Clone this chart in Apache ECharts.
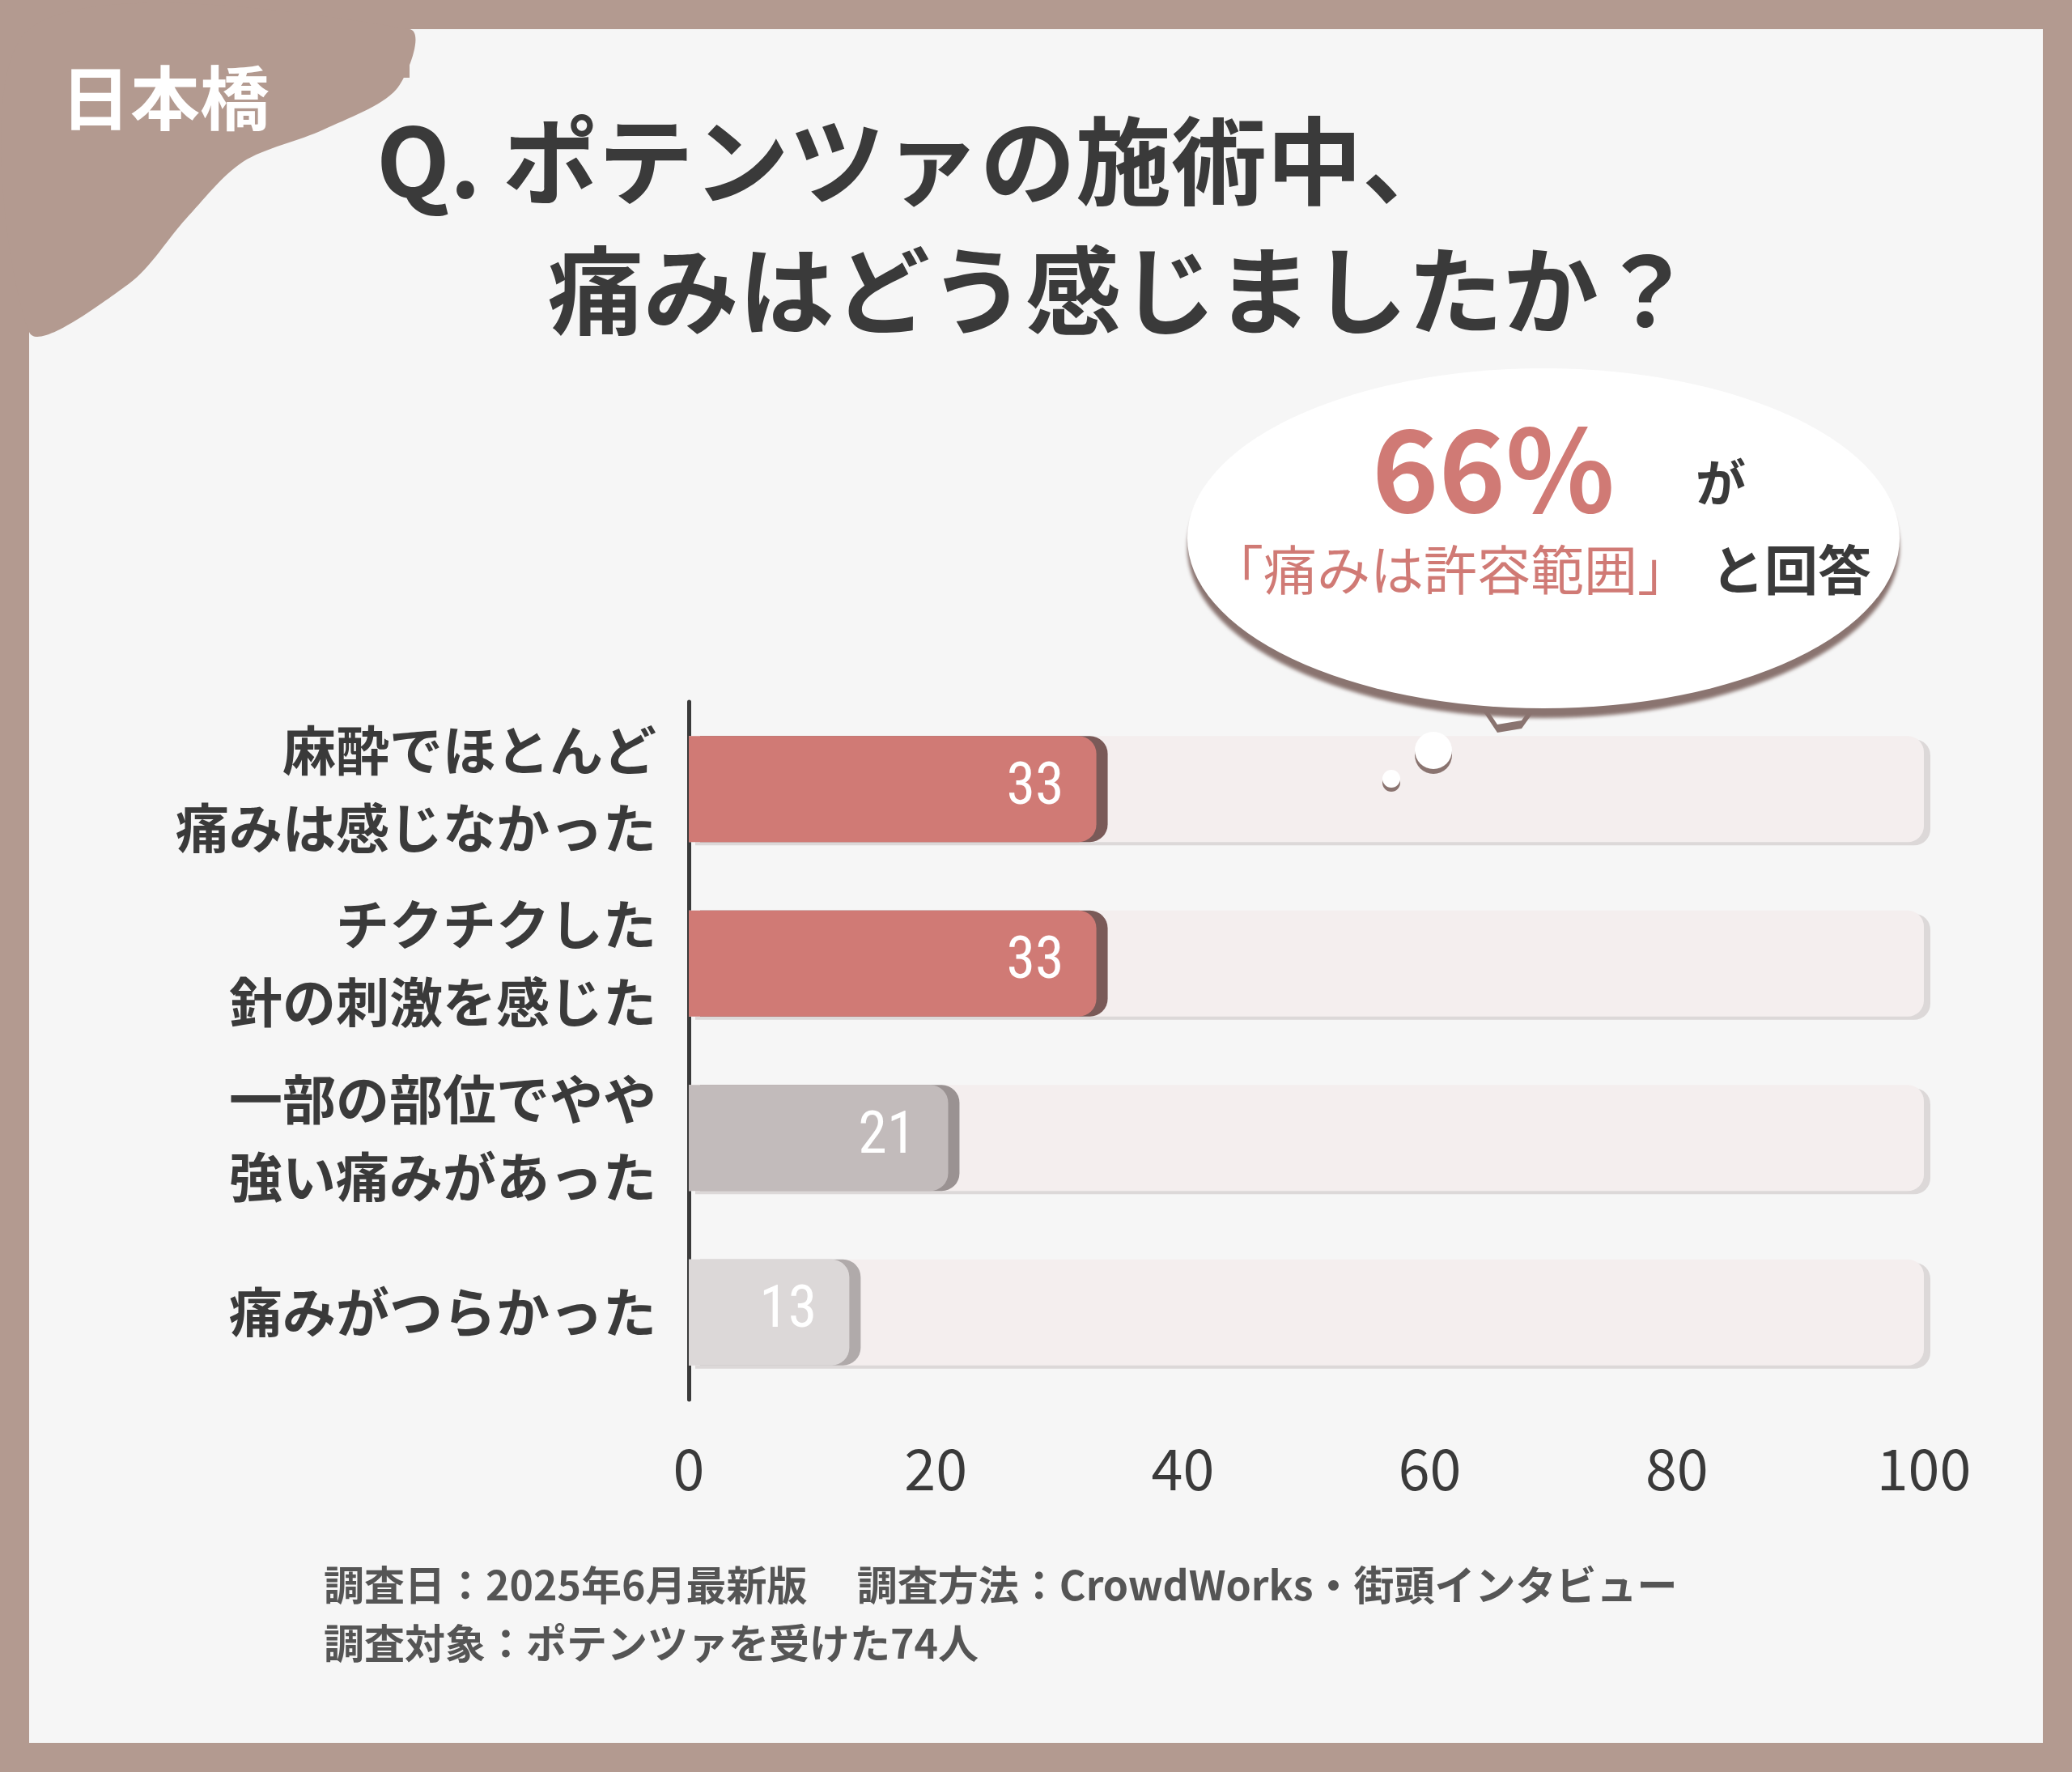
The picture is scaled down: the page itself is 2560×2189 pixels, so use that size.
<!DOCTYPE html>
<html><head><meta charset="utf-8">
<script src="https://cdn.jsdelivr.net/npm/echarts@6/dist/echarts.min.js"></script>
<style>html,body{margin:0;padding:0;background:#b39a90}#c{width:2560px;height:2189px}</style>
</head><body><div id="c"></div>
<script>
const categories = ['麻酔でほとんど\n痛みは感じなかった','チクチクした\n針の刺激を感じた','一部の部位でやや\n強い痛みがあった','痛みがつらかった'];
const values = [33,33,21,13];
const barColors = ['#d07a75','#d07a75','#c2bbbb','#dcd8d8'];
const edgeColors = ['#7a5a58','#7a5a58','#9a9292','#b0aaaa'];
const maxValues = [100,100,100,100];
const F = '"Noto Sans CJK JP","Noto Sans",sans-serif';
const chart = echarts.init(document.getElementById('c'));
chart.setOption({
  backgroundColor:'#b39a90',
  grid:{left:851,right:2560-2377,top:867,height:862},
  xAxis:{type:'value',min:0,max:100,interval:20,axisLine:{show:false},axisTick:{show:false},splitLine:{show:false},
    axisLabel:{fontSize:70,color:'#3a3a3a',fontFamily:F,margin:50}},
  yAxis:{type:'category',inverse:true,data:categories,axisLine:{show:true,lineStyle:{color:'#3a3a3a',width:5}},axisTick:{show:false},
    axisLabel:{fontSize:66,fontWeight:'bold',color:'#3a3a3a',fontFamily:F,lineHeight:96,margin:40,align:'right'}},
  graphic:[
    {type:'rect',shape:{x:36,y:36,width:2488,height:2117},style:{fill:'#f6f6f6'},z:-10},
    {type:'polygon',shape:{points:[[36,36],[506,36],[490,110],[400,160],[300,200],[230,270],[160,350],[36,410]],smooth:0.3},style:{fill:'#b39a90'}},
    {type:'rect',shape:{x:36,y:36,width:470,height:60},style:{fill:'#b39a90'}},
    {type:'text',x:75,y:78,style:{text:'日本橋',fontSize:86,fontWeight:'bold',fill:'#fff',fontFamily:F}},
    {type:'text',x:465,y:140,style:{text:'Q. ポテンツァの施術中、',fontSize:118,fontWeight:'bold',fill:'#3a3a3a',fontFamily:F}},
    {type:'text',x:1385,y:300,style:{text:'痛みはどう感じましたか？',fontSize:118,fontWeight:'bold',fill:'#3a3a3a',fontFamily:F,align:'center'}},
    {type:'polygon',shape:{points:[[1800,820],[1930,820],[1880,890],[1850,895]]},style:{fill:'#fff',shadowColor:'#8a7470',shadowOffsetY:10}},
    {type:'circle',x:1907,y:665,scaleX:2.2,scaleY:1.05,shape:{cx:0,cy:0,r:200},style:{fill:'#ffffff',shadowColor:'#8a7470',shadowOffsetY:12,shadowBlur:4}},
    {type:'circle',z:100,shape:{cx:1771,cy:927,r:23},style:{fill:'#fff',shadowColor:'#8a7470',shadowOffsetY:6}},
    {type:'circle',z:100,shape:{cx:1719,cy:962,r:11},style:{fill:'#fff',shadowColor:'#8a7470',shadowOffsetY:5}},
    {type:'text',x:1845,y:580,style:{text:'66%',fontSize:140,fill:'#d07a75',fontFamily:F,align:'center',verticalAlign:'middle',fontWeight:'bold'}},
    {type:'text',x:2126,y:596,style:{text:'が',fontSize:62,fill:'#3a3a3a',fontFamily:F,align:'center',verticalAlign:'middle',fontWeight:'bold'}},
    {type:'text',x:1495,y:704,style:{text:'「痛みは許容範囲」',fontSize:66,fill:'#d07a75',fontFamily:F,verticalAlign:'middle'}},
    {type:'text',x:2114,y:704,style:{text:'と回答',fontSize:66,fill:'#3a3a3a',fontFamily:F,verticalAlign:'middle',fontWeight:'bold'}},
    {type:'text',x:400,y:1933,style:{text:'調査日：2025年6月最新版　 調査方法：CrowdWorks・街頭インタビュー',fontSize:50,fontWeight:'bold',fill:'#555',fontFamily:F}},
    {type:'text',x:400,y:2005,style:{text:'調査対象：ポテンツァを受けた74人',fontSize:50,fontWeight:'bold',fill:'#555',fontFamily:F}}
  ],
  series:[
    {type:'bar',data:maxValues,barWidth:131,barGap:'-100%',silent:true,
     itemStyle:{color:'#f4eeee',borderRadius:[0,20,20,0],shadowColor:'#dcd8d8',shadowOffsetX:8,shadowOffsetY:4}},
    {type:'bar',data:values.map((v,i)=>({value:v,itemStyle:{color:barColors[i],shadowColor:edgeColors[i],shadowOffsetX:14}})),
     barWidth:131,itemStyle:{borderRadius:[0,22,22,0]},
     label:{show:true,position:'insideRight',distance:40,color:'#fff',fontSize:72,fontFamily:'"Roboto Condensed","Liberation Sans Narrow",'+F}}
  ]
});
</script></body></html>
